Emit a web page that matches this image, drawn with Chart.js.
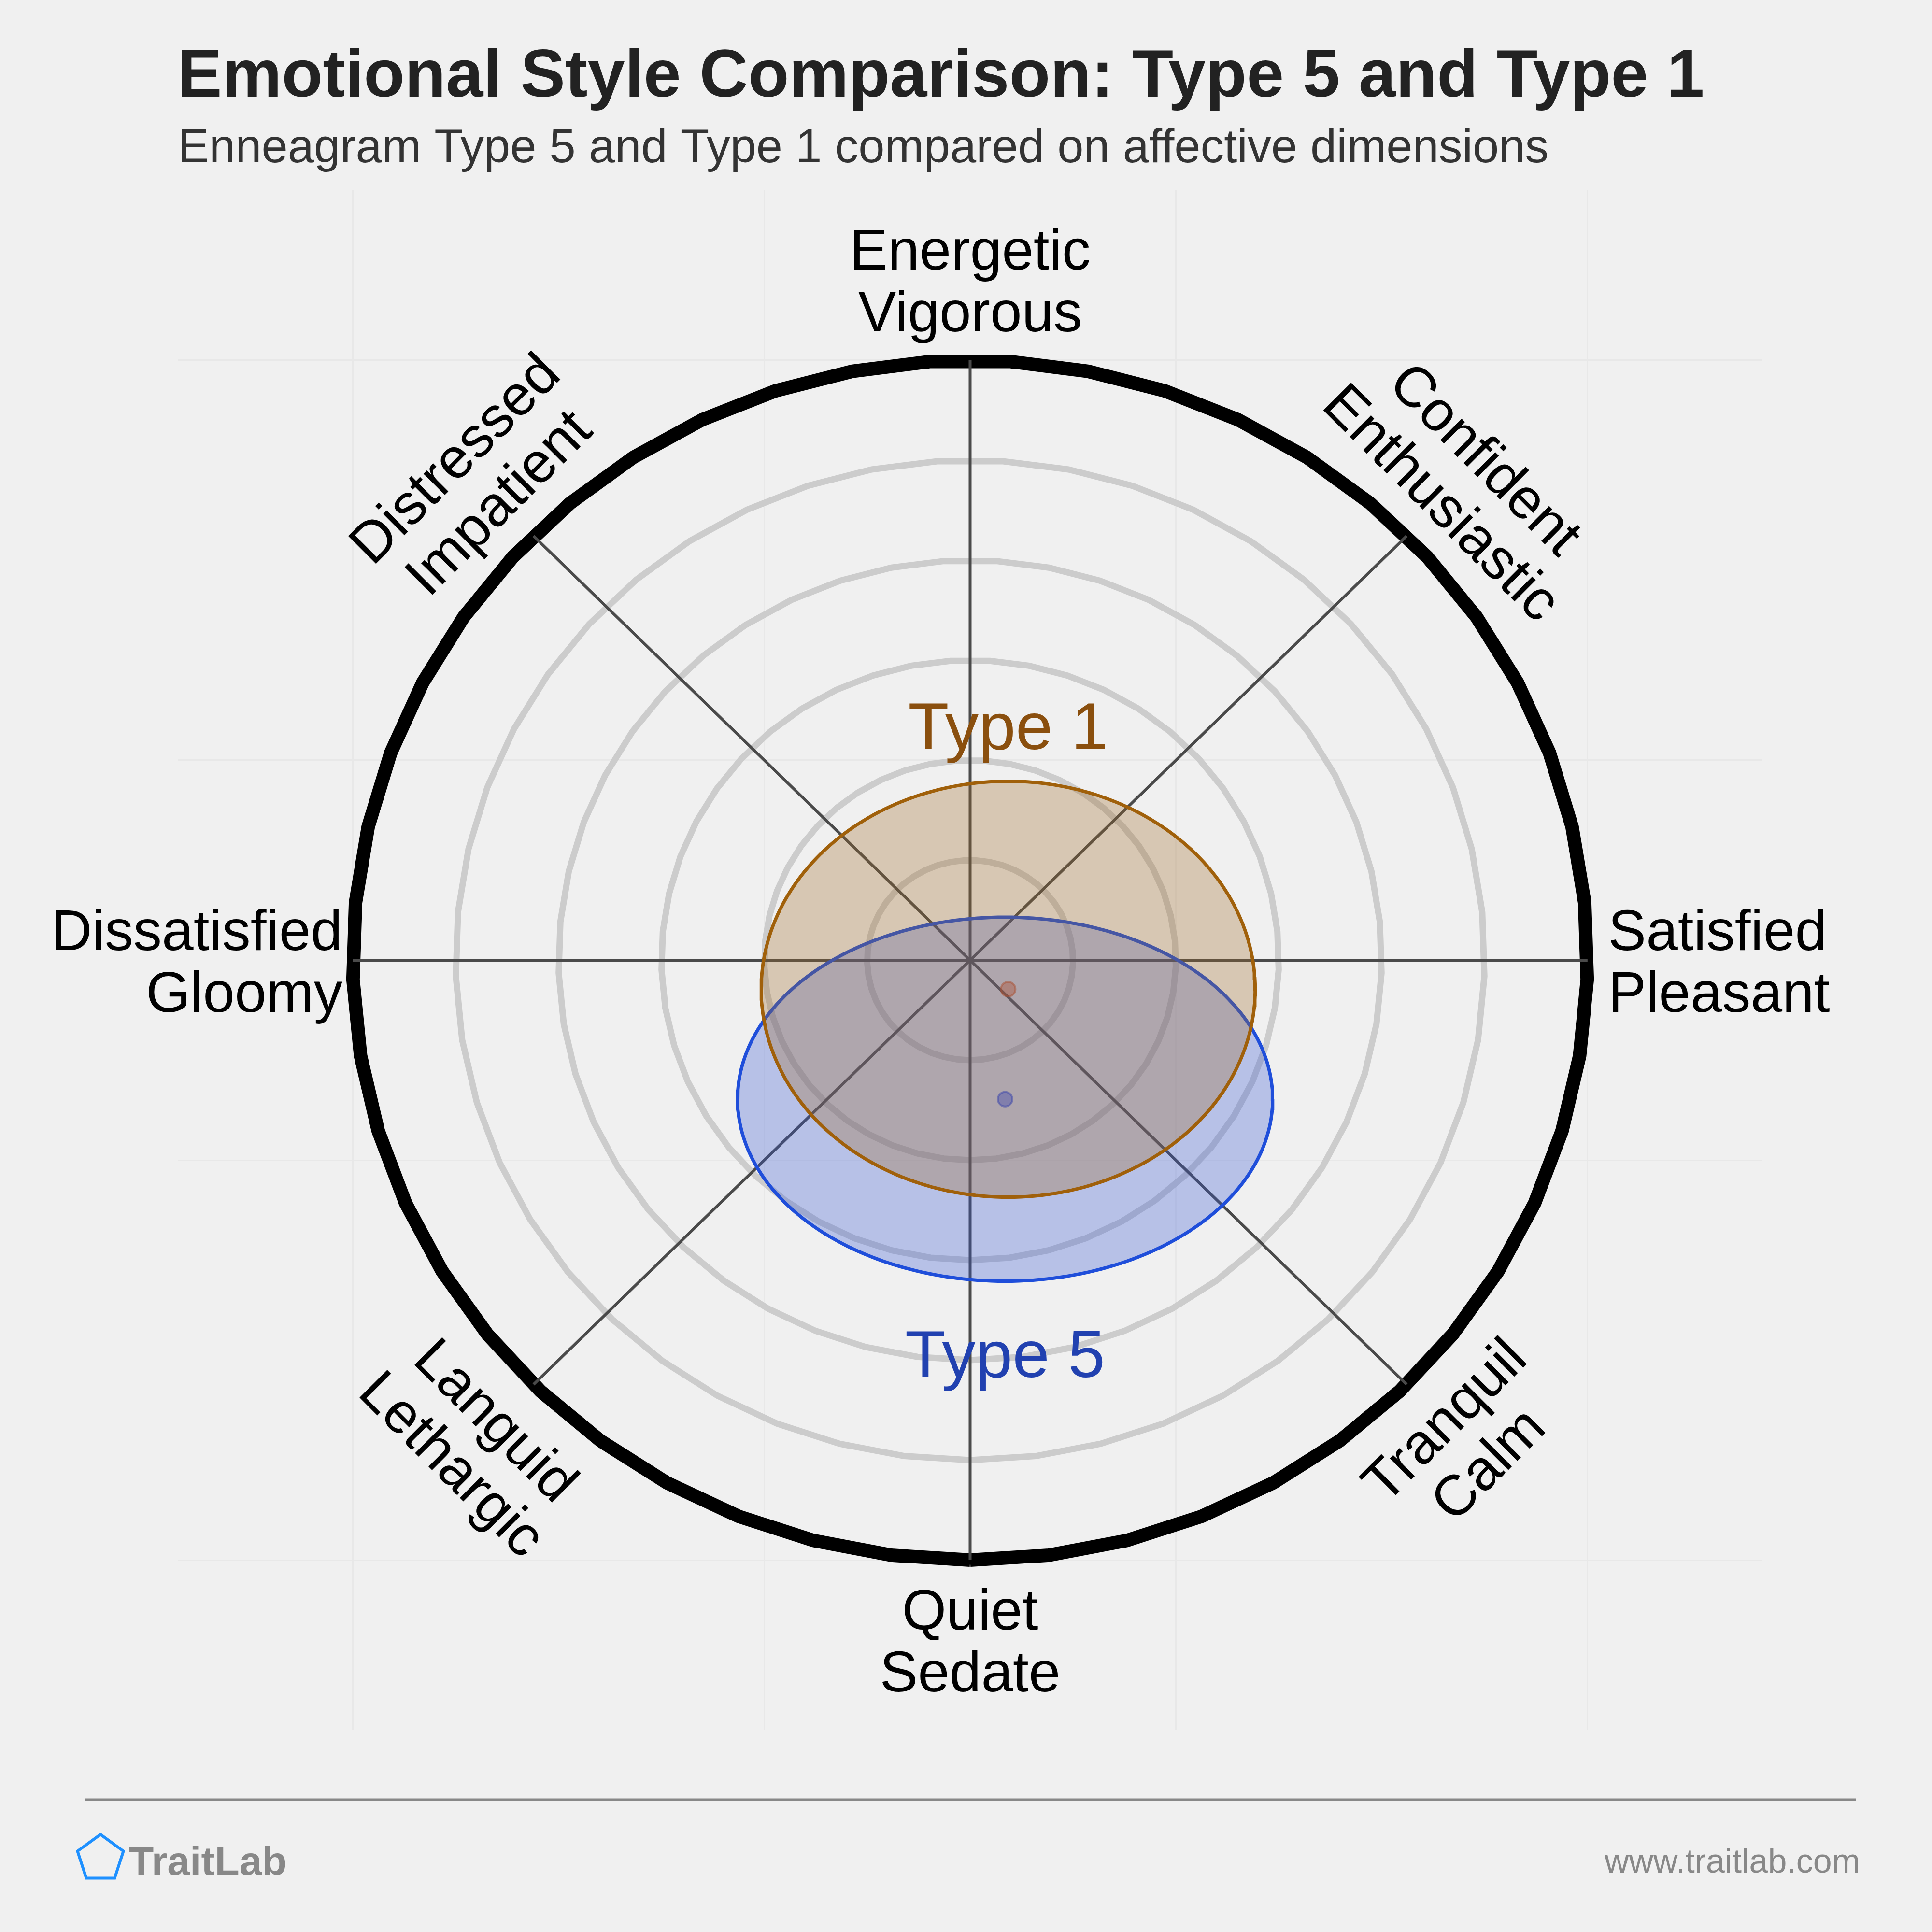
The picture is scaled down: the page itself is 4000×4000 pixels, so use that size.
<!DOCTYPE html>
<html>
<head>
<meta charset="utf-8">
<script src="https://cdn.jsdelivr.net/npm/chart.js@4.4.1/dist/chart.umd.min.js"></script>
<style>
  html, body { margin: 0; padding: 0; background: #f0f0f0; }
  #wrap { width: 4000px; height: 4000px; position: relative; }
  canvas { display: block; }
</style>
</head>
<body>
<div id="wrap"><canvas id="c" width="4000" height="4000"></canvas></div>
<script>
// ---------------- data ----------------
const TITLE = "Emotional Style Comparison: Type 5 and Type 1";
const SUBTITLE = "Enneagram Type 5 and Type 1 compared on affective dimensions";
const FOOTER_BRAND = "TraitLab";
const FOOTER_URL = "www.traitlab.com";

// categories (axis end labels), counter-clockwise from the right
const axisLabels = [
  ["Satisfied", "Pleasant"],
  ["Confident", "Enthusiastic"],
  ["Energetic", "Vigorous"],
  ["Distressed", "Impatient"],
  ["Dissatisfied", "Gloomy"],
  ["Languid", "Lethargic"],
  ["Quiet", "Sedate"],
  ["Tranquil", "Calm"]
];
const axisAngles = [0, 45, 90, 135, 180, 225, 270, 315];

// rings and grid
const ringRadii = [1, 2, 3, 4, 5];
const outerRadius = 6;
const gridTicks = [-6, -2, 2, 6];
const axisRange = 7.7;

// series: Type 5 and Type 1 (center and spread of each ellipse)
const types = ["Type 5", "Type 1"];
const centerX = [0.34, 0.37];
const centerY = [-1.39, -0.29];
const spreadX = [2.60, 2.40];
const spreadY = [1.82, 2.08];

// ---------------- styles ----------------
const FONT = '"Liberation Sans", Arial, Helvetica, sans-serif';
const strokeColors = ["rgb(31,78,218)", "rgb(160,96,10)"];
const fillColors = ["rgba(53,87,213,0.30)", "rgba(160,107,40,0.30)"];
const dotFill = ["rgba(60,70,170,0.40)", "rgba(170,80,50,0.40)"];
const dotBorder = ["rgba(60,70,170,0.50)", "rgba(170,80,50,0.50)"];
const labelColors = ["#2141b0", "#8a4f0e"];

function ringPoints(r) {
  const pts = [];
  const n = 49;
  for (let k = 0; k <= n; k++) {
    const t = -Math.PI / 2 + 2 * Math.PI * k / n;
    pts.push({ x: r * Math.cos(t), y: r * Math.sin(t) });
  }
  return pts;
}
function ellipsePoints(cx, cy, sx, sy) {
  const pts = [];
  const n = 240;
  for (let k = 0; k <= n; k++) {
    const t = 2 * Math.PI * k / n;
    pts.push({ x: cx + sx * Math.cos(t), y: cy + sy * Math.sin(t) });
  }
  return pts;
}

const datasets = [];
ringRadii.forEach(r => datasets.push({
  label: "ring " + r, data: ringPoints(r), showLine: true, fill: false,
  borderColor: "#cccccc", borderWidth: 13, pointRadius: 0, tension: 0,
  borderJoinStyle: "miter", order: 20
}));
datasets.push({
  label: "outer ring", data: ringPoints(outerRadius), showLine: true, fill: false,
  borderColor: "#000000", borderWidth: 28, pointRadius: 0, tension: 0,
  borderJoinStyle: "miter", order: 19
});
axisAngles.slice(0, 4).forEach(a => {
  const c = Math.cos(a * Math.PI / 180), s = Math.sin(a * Math.PI / 180);
  datasets.push({
    label: "axis " + a,
    data: [{ x: -outerRadius * c, y: -outerRadius * s }, { x: outerRadius * c, y: outerRadius * s }],
    showLine: true, fill: false, borderColor: "#4a4a4a", borderWidth: 6,
    pointRadius: 0, order: 18
  });
});
types.forEach((t, i) => datasets.push({
  label: t, data: ellipsePoints(centerX[i], centerY[i], spreadX[i], spreadY[i]),
  showLine: true, fill: "shape", backgroundColor: fillColors[i],
  borderColor: strokeColors[i], borderWidth: 7, pointRadius: 0, tension: 0,
  order: 10 - i
}));
types.forEach((t, i) => datasets.push({
  label: t + " center", data: [{ x: centerX[i], y: centerY[i] }],
  showLine: false, pointRadius: 15, pointBackgroundColor: dotFill[i],
  pointBorderColor: dotBorder[i], pointBorderWidth: 4, order: 2
}));

const textPlugin = {
  id: "texts",
  beforeDraw(chart) {
    const ctx = chart.ctx;
    ctx.save();
    ctx.fillStyle = "#f0f0f0";
    ctx.fillRect(0, 0, chart.width, chart.height);
    ctx.restore();
  },
  afterDraw(chart) {
    const ctx = chart.ctx;
    const xs = chart.scales.x, ys = chart.scales.y;
    ctx.save();
    ctx.textBaseline = "alphabetic";

    // title + subtitle
    ctx.fillStyle = "#222222";
    ctx.textAlign = "left";
    ctx.font = "bold 139px " + FONT;
    ctx.fillText(TITLE, 367, 200);
    ctx.fillStyle = "#333333";
    ctx.font = "97.5px " + FONT;
    ctx.fillText(SUBTITLE, 368, 336);

    // axis end labels
    ctx.fillStyle = "#000000";
    ctx.font = "118px " + FONT;
    const labelR = 6.8;
    axisLabels.forEach((lines, i) => {
      const a = axisAngles[i];
      const rad = a * Math.PI / 180;
      const c = Math.cos(rad), s = Math.sin(rad);
      if (a === 0 || a === 180) {
        const px = xs.getPixelForValue(a === 0 ? 6.2 : -6.1);
        const py = ys.getPixelForValue(0);
        ctx.textAlign = a === 0 ? "left" : "right";
        ctx.fillText(lines[0], px, py - 21);
        ctx.fillText(lines[1], px, py + 107);
        return;
      }
      const px = xs.getPixelForValue(labelR * c);
      const py = ys.getPixelForValue(labelR * s);
      let rot = 90 - a;
      while (rot > 90) rot -= 180;
      while (rot <= -90) rot += 180;
      ctx.save();
      ctx.translate(px, py);
      ctx.rotate(rot * Math.PI / 180);
      ctx.textAlign = "center";
      ctx.fillText(lines[0], 0, -22);
      ctx.fillText(lines[1], 0, 106);
      ctx.restore();
    });

    // series labels
    ctx.font = "138px " + FONT;
    ctx.textAlign = "center";
    const top = centerY.indexOf(Math.max(...centerY));
    types.forEach((t, i) => {
      ctx.fillStyle = labelColors[i];
      const px = xs.getPixelForValue(centerX[i]);
      let py;
      if (i === top) py = ys.getPixelForValue(centerY[i] + spreadY[i]) - 66;
      else py = ys.getPixelForValue(centerY[i] - spreadY[i]) + 198;
      ctx.fillText(t, px, py);
    });

    // footer
    ctx.strokeStyle = "#888888";
    ctx.lineWidth = 5;
    ctx.beginPath();
    ctx.moveTo(175, 3726);
    ctx.lineTo(3843, 3726);
    ctx.stroke();

    // logo pentagon
    ctx.strokeStyle = "#1e90ff";
    ctx.lineWidth = 6;
    ctx.beginPath();
    for (let k = 0; k < 5; k++) {
      const t = -Math.PI / 2 + 2 * Math.PI * k / 5;
      const x = 208 + 50 * Math.cos(t), y = 3848 + 50 * Math.sin(t);
      if (k === 0) ctx.moveTo(x, y); else ctx.lineTo(x, y);
    }
    ctx.closePath();
    ctx.stroke();

    ctx.fillStyle = "#888888";
    ctx.textAlign = "left";
    ctx.font = "bold 84px " + FONT;
    ctx.fillText(FOOTER_BRAND, 267, 3882);
    ctx.textAlign = "right";
    ctx.font = "70px " + FONT;
    ctx.fillText(FOOTER_URL, 3851, 3877);
    ctx.restore();
  }
};

const scaleOpts = () => ({
  type: "linear",
  min: -axisRange,
  max: axisRange,
  afterBuildTicks: (scale) => { scale.ticks = gridTicks.map(v => ({ value: v })); },
  ticks: { display: false },
  grid: { color: "#e8e8e8", lineWidth: 3, drawTicks: false },
  border: { display: false }
});

new Chart(document.getElementById("c"), {
  type: "scatter",
  data: { datasets },
  options: {
    responsive: false,
    animation: false,
    devicePixelRatio: 1,
    events: [],
    layout: { padding: { left: 368, right: 351, top: 394, bottom: 418 } },
    scales: { x: scaleOpts(), y: scaleOpts() },
    plugins: {
      legend: { display: false },
      tooltip: { enabled: false },
      title: { display: false }
    }
  },
  plugins: [textPlugin]
});
</script>
</body>
</html>
